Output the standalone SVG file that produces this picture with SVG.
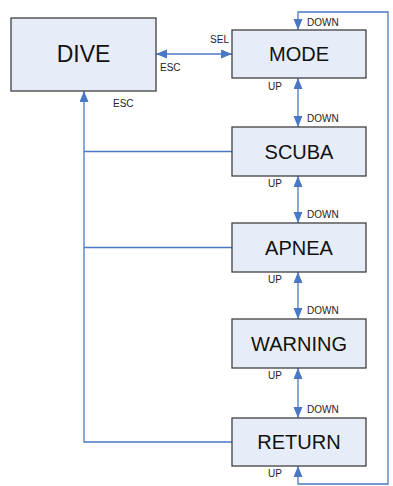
<svg xmlns="http://www.w3.org/2000/svg" width="393" height="486" viewBox="0 0 393 486">
<style>
.box{fill:#e7edf8;stroke:#404040;stroke-width:1.3}
.big{font-family:"Liberation Sans",Arial,sans-serif;font-size:20px;fill:#111;text-anchor:middle}
.lbl{font-family:"Liberation Sans",Arial,sans-serif;font-size:10px;fill:#222}
.ln{fill:none;stroke:#4a78c2;stroke-width:1.3}
</style>
<defs>
<marker id="ah" markerUnits="userSpaceOnUse" markerWidth="12" markerHeight="10" refX="11" refY="4.5" orient="auto-start-reverse">
<path d="M0,0 L11,4.5 L0,9 z" fill="#4a78c2"/>
</marker>
</defs>
<rect width="393" height="486" fill="#fff"/>
<g id="connectors">
<line class="ln" x1="156" y1="54" x2="232" y2="54" marker-start="url(#ah)" marker-end="url(#ah)"/>
<line class="ln" x1="298" y1="78" x2="298" y2="127" marker-start="url(#ah)" marker-end="url(#ah)"/>
<line class="ln" x1="298" y1="176" x2="298" y2="223" marker-start="url(#ah)" marker-end="url(#ah)"/>
<line class="ln" x1="298" y1="272" x2="298" y2="319" marker-start="url(#ah)" marker-end="url(#ah)"/>
<line class="ln" x1="298" y1="368" x2="298" y2="418" marker-start="url(#ah)" marker-end="url(#ah)"/>
<path class="ln" d="M298,466 L298,484 L388,484 L388,12 L298,12 L298,30" marker-start="url(#ah)" marker-end="url(#ah)"/>
<path class="ln" d="M232,442 L84,442 L84,91" marker-end="url(#ah)"/>
<line class="ln" x1="84" y1="151.5" x2="232" y2="151.5"/>
<line class="ln" x1="84" y1="247.5" x2="232" y2="247.5"/>
</g>
<g id="labels">
<text class="lbl" x="229" y="43" text-anchor="end">SEL</text>
<text class="lbl" x="160" y="71">ESC</text>
<text class="lbl" x="113" y="107">ESC</text>
<text class="lbl" x="307" y="26">DOWN</text>
<text class="lbl" x="268" y="90">UP</text>
<text class="lbl" x="307" y="122">DOWN</text>
<text class="lbl" x="268" y="187">UP</text>
<text class="lbl" x="307" y="218">DOWN</text>
<text class="lbl" x="268" y="283">UP</text>
<text class="lbl" x="307" y="314">DOWN</text>
<text class="lbl" x="268" y="379">UP</text>
<text class="lbl" x="307" y="413">DOWN</text>
<text class="lbl" x="268" y="477">UP</text>
</g>
<g id="dive">
<rect class="box" x="11" y="18" width="145" height="73"/>
<text class="big" x="83.5" y="62" style="font-size:23px">DIVE</text>
</g>
<g id="mode">
<rect class="box" x="232" y="30" width="134" height="48"/>
<text class="big" x="299" y="61">MODE</text>
</g>
<g id="scuba">
<rect class="box" x="232" y="127" width="134" height="49"/>
<text class="big" x="299" y="158.5">SCUBA</text>
</g>
<g id="apnea">
<rect class="box" x="232" y="223" width="134" height="49"/>
<text class="big" x="299" y="254.5">APNEA</text>
</g>
<g id="warning">
<rect class="box" x="232" y="319" width="134" height="49"/>
<text class="big" x="299" y="350.5">WARNING</text>
</g>
<g id="return">
<rect class="box" x="232" y="418" width="134" height="48"/>
<text class="big" x="299" y="449">RETURN</text>
</g>
</svg>
